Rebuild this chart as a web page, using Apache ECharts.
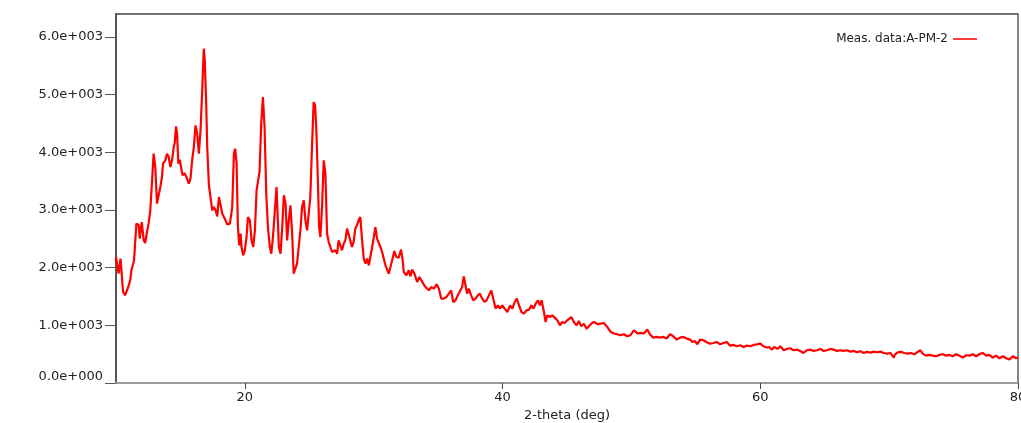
<!DOCTYPE html>
<html>
<head>
<meta charset="utf-8">
<script src="https://cdn.jsdelivr.net/npm/echarts@6/dist/echarts.min.js"></script>
<style>
html,body{margin:0;padding:0;background:#fff;}
#chart{width:1021px;height:423px;}
</style>
</head>
<body>
<div id="chart"></div>
<script>
// ---- data ----
const seriesName = 'Meas. data:A-PM-2';
const xAxisName = '2-theta (deg)';
const xTicks = [20, 40, 60, 80];
const yTicks = [0, 1000, 2000, 3000, 4000, 5000, 6000];
const yTickLabels = ['0.0e+000', '1.0e+003', '2.0e+003', '3.0e+003', '4.0e+003', '5.0e+003', '6.0e+003'];

const twoTheta = [
 10.0,10.2,10.35,10.55,10.7,10.95,11.1,11.2,11.4,11.58,11.76,11.84,12.0,12.15,12.27,12.4,12.53,12.66,12.8,12.92,
 13.05,13.18,13.31,13.44,13.57,13.65,13.83,13.96,14.09,14.22,14.35,14.48,14.55,14.66,14.74,14.84,14.95,15.05,15.16,15.31,
 15.47,15.65,15.78,15.91,16.04,16.17,16.3,16.43,16.56,16.69,16.81,16.89,17.0,17.08,17.21,17.34,17.47,17.6,17.73,17.86,
 17.99,18.12,18.25,18.38,18.5,18.63,18.84,19.02,19.15,19.25,19.36,19.46,19.56,19.67,19.74,19.87,20.0,20.13,20.24,20.39,
 20.52,20.65,20.78,20.91,21.01,21.14,21.27,21.4,21.53,21.66,21.79,21.94,22.05,22.18,22.33,22.46,22.56,22.64,22.77,22.9,
 23.03,23.16,23.28,23.41,23.54,23.67,23.79,23.92,24.05,24.18,24.31,24.44,24.57,24.7,24.83,24.96,25.08,25.21,25.34,25.45,
 25.55,25.66,25.76,25.86,25.99,26.12,26.25,26.38,26.51,26.64,26.77,26.9,27.03,27.16,27.28,27.41,27.54,27.67,27.8,27.93,
 28.06,28.18,28.31,28.44,28.57,28.7,28.83,28.96,
 29.1,29.23,29.36,29.49,29.62,29.75,29.88,30.01,30.13,30.26,30.39,30.52,
 30.65,30.91,31.17,31.43,31.6,31.76,31.94,32.12,32.25,32.33,32.54,32.72,32.85,32.98,33.16,33.37,33.55,33.68,33.84,34.02,
 34.28,34.46,34.67,34.88,35.06,35.24,35.44,35.65,35.83,36.01,36.17,36.35,36.53,36.68,36.86,36.99,37.12,37.25,37.38,37.56,
 37.72,37.9,38.08,38.24,38.42,38.6,38.76,38.94,39.12,39.28,39.46,39.64,39.8,39.98,40.16,40.37,40.58,40.76,40.94,41.1,
 41.28,41.46,41.66,41.87,42.05,42.23,42.39,42.57,42.75,42.9,43.03,43.21,43.34,43.47,43.68,43.86,44.04,44.25,44.45,44.63,
 44.81,45.02,45.15,45.33,45.53,45.74,45.92,46.1,46.31,46.52,46.7,46.88,47.09,47.22,47.4,47.61,
 47.86,48.12,48.38,48.64,48.9,49.15,49.41,49.67,49.93,50.19,50.32,50.5,50.71,50.97,51.23,51.43,51.69,51.95,52.21,52.47,
 52.73,52.99,53.25,53.51,53.77,54.03,54.29,54.55,54.73,54.91,55.12,55.33,55.59,55.84,56.1,56.36,56.62,56.88,57.14,57.4,
 57.66,57.92,58.18,58.44,58.7,58.96,59.22,59.48,59.74,60.0,60.25,60.51,60.7,60.88,61.08,61.34,61.55,61.81,62.07,62.33,
 62.58,62.84,63.1,63.36,63.62,63.88,64.14,64.4,64.66,64.92,65.17,65.43,65.69,65.95,66.21,66.47,66.73,66.99,67.25,67.51,
 67.77,68.02,68.28,68.54,68.8,69.06,69.32,69.58,69.84,70.1,70.36,70.46,70.67,70.92,71.18,71.44,71.7,71.96,72.22,72.43,
 72.6,72.86,73.12,73.38,73.64,73.9,74.16,74.42,74.67,74.93,75.19,75.45,75.71,75.97,76.23,76.49,76.75,77.0,77.26,77.52,
 77.78,78.04,78.3,78.56,78.82,79.08,79.34,79.6,79.85,80.0
];

const intensity = [
 2185,1897,2157,1578,1521,1665,1781,1954,2128,2764,2740,2504,2792,2474,2428,2618,2764,2995,3515,3978,
 3745,3111,3255,3399,3572,3804,3862,3978,3920,3745,3862,4092,4150,4451,4320,3804,3873,3745,3601,3640,
 3572,3457,3543,3862,4092,4468,4324,3978,4382,5075,5798,5596,4845,4092,3428,3399,2995,3052,2995,2890,
 3225,3255,2937,2908,2821,2752,2764,3052,3978,4064,3804,2705,2388,2590,2359,2214,2301,2532,2879,2821,
 2474,2359,2648,3341,3485,3659,4498,4959,4440,3283,2705,2359,2243,2532,2995,3399,2821,2359,2243,2705,
 3255,3110,2474,2821,3081,2590,1897,1897,2070,2359,2648,3052,3168,2821,2648,2677,3226,4092,4872,4815,
 4382,3572,2705,2532,3052,3862,3630,2590,2445,2474,2272,2243,2301,2243,2474,2445,2301,2416,2474,2677,
 2648,2474,2359,2445,2677,2735,2821,2879,
 2474,2157,2070,2157,2041,2041,2359,2532,2705,2503,2474,2359,
 2272,2041,1897,2128,2289,2185,2174,2313,2128,1926,1868,1954,1850,1966,1897,1752,1839,1868,1723,1665,
 1607,1665,1636,1711,1636,1463,1463,1492,1549,1607,1405,1434,1520,1492,1665,1850,1694,1549,1636,1520,
 1434,1463,1520,1549,1463,1405,1434,1520,1607,1463,1290,1347,1290,1347,1290,1232,1347,1290,1405,1463,
 1347,1232,1203,1261,1272,1347,1290,1376,1434,1347,1434,1232,1058,1174,1145,1174,1134,1087,1000,1058,
 1041,1087,1058,1145,1058,1000,1076,983,1029,943,983,1029,1058,1076,1018,1029,
 1041,973,887,858,846,829,846,810,829,915,927,858,869,858,927,846,787,799,787,799,
 770,846,810,752,787,799,770,752,712,729,671,752,741,706,683,694,712,671,694,712,
 648,660,637,654,625,648,637,660,671,683,637,614,625,579,625,591,637,568,591,602,
 568,579,556,521,568,579,556,568,591,556,568,591,579,556,568,556,568,544,556,533,
 550,521,539,527,544,533,544,521,510,521,441,498,533,539,521,510,521,498,539,568,
 510,475,487,475,464,487,498,475,487,464,498,475,441,481,475,498,464,498,521,475,
 487,441,475,429,464,429,406,464,429,441
];

const chart = echarts.init(document.getElementById('chart'), null, {renderer: 'canvas'});
const font = 'DejaVu Sans';

chart.setOption({
  animation: false,
  backgroundColor: '#ffffff',
  grid: {
    left: 116, right: 3, top: 14, bottom: 40,
    containLabel: false,
    outerBoundsMode: 'none',
    show: true, borderColor: '#444', borderWidth: 1.3, backgroundColor: 'transparent'
  },
  legend: {
    data: [seriesName],
    right: 39, top: 28,
    align: 'right',
    icon: 'rect',
    itemWidth: 24, itemHeight: 1.5,
    itemGap: 10,
    textStyle: {fontFamily: font, fontSize: 12, color: '#222'},
    itemStyle: {color: '#ff0000'}
  },
  xAxis: {
    type: 'value',
    min: 10, max: 80,
    name: xAxisName,
    nameLocation: 'middle',
    nameGap: 23,
    nameTextStyle: {fontFamily: font, fontSize: 13, color: '#222'},
    axisLine: {show: true, onZero: false, lineStyle: {color: '#9a9a9a', width: 2}},
    axisTick: {show: true, inside: false, length: 6, customValues: xTicks, lineStyle: {color: '#444', width: 1}},
    axisLabel: {show: true, customValues: xTicks, margin: 8, fontFamily: font, fontSize: 13, color: '#222', hideOverlap: false},
    splitLine: {show: false}
  },
  yAxis: {
    type: 'value',
    min: 0, max: 6400,
    axisLine: {show: true, lineStyle: {color: '#555', width: 2}},
    axisTick: {show: true, inside: false, length: 11, customValues: yTicks, lineStyle: {color: '#555', width: 1}},
    axisLabel: {
      show: true, customValues: yTicks, margin: 13,
      fontFamily: font, fontSize: 13, color: '#222',
      verticalAlignMinLabel: 'bottom',
      formatter: function (v) {
        const i = yTicks.indexOf(v);
        return i >= 0 ? yTickLabels[i] : '';
      }
    },
    splitLine: {show: false}
  },
  series: [{
    name: seriesName,
    type: 'line',
    data: twoTheta.map((x, i) => [x, intensity[i]]),
    showSymbol: false,
    symbol: 'none',
    lineStyle: {color: '#ff0000', width: 2.2},
    itemStyle: {color: '#ff0000'},
    clip: true
  }]
});
</script>
</body>
</html>
